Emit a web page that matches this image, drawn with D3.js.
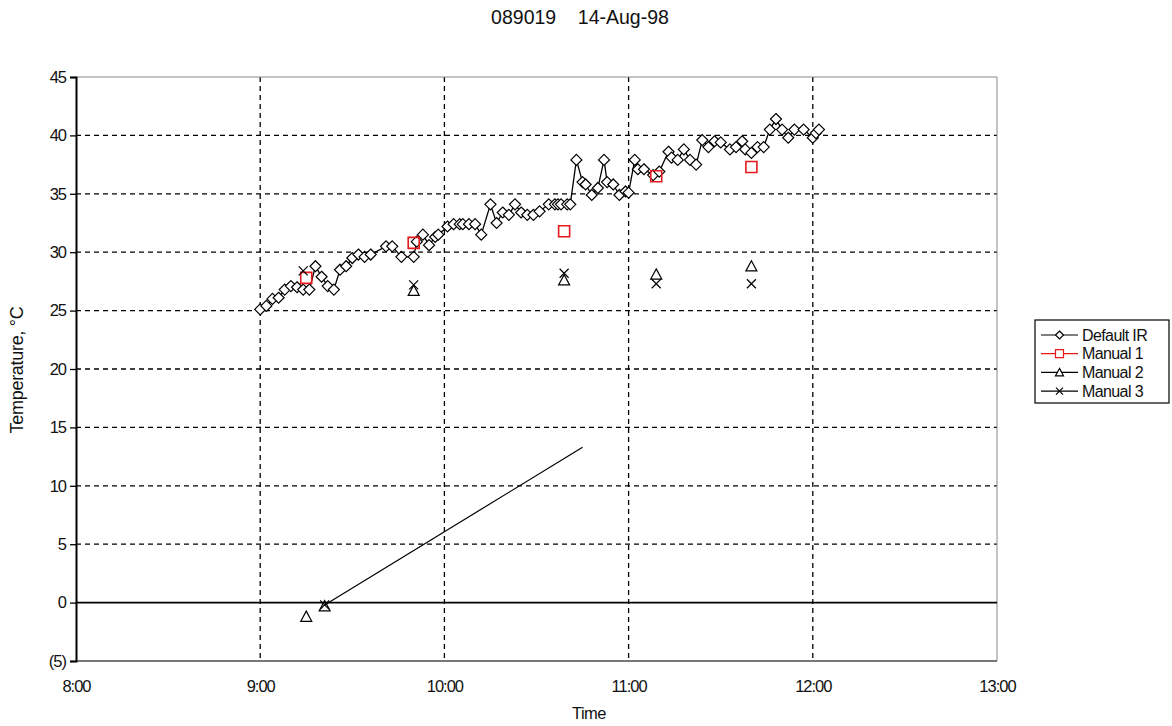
<!DOCTYPE html>
<html>
<head>
<meta charset="utf-8">
<script src="https://cdn.jsdelivr.net/npm/d3@7"></script>
<style>
  body { margin: 0; background: #fff; }
  svg { display: block; font-family: "Liberation Sans", Arial, sans-serif; }
</style>
</head>
<body>
<svg id="chart" width="1172" height="726"></svg>
<script>
// Surface temperature readings, 14 Aug 1998, site 089019
const titleText = "089019    14-Aug-98";
const xTickLabels = ["8:00", "9:00", "10:00", "11:00", "12:00", "13:00"];
const yTickValues = [-5, 0, 5, 10, 15, 20, 25, 30, 35, 40, 45];
const seriesNames = ["Default IR", "Manual 1", "Manual 2", "Manual 3"];

// Default IR logger trace
const irTimes = ["9:00","9:02","9:04","9:06","9:08","9:10","9:12","9:14","9:16","9:18",
  "9:20","9:22","9:24","9:26","9:28","9:30","9:32","9:34","9:36","9:41",
  "9:43","9:46","9:50","9:51","9:53","9:55","9:57","9:58","10:01","10:03",
  "10:05","10:06","10:08","10:10","10:12","10:15","10:17","10:19","10:21","10:23",
  "10:25","10:27","10:29","10:31","10:34","10:36","10:37","10:38","10:40","10:41",
  "10:43","10:45","10:46","10:48","10:50","10:52","10:53","10:55","10:57","10:59",
  "11:00","11:02","11:03","11:05","11:08","11:10","11:13","11:14","11:16","11:18",
  "11:20","11:22","11:24","11:26","11:28","11:30","11:33","11:35","11:37","11:38",
  "11:40","11:42","11:44","11:46","11:48","11:50","11:52","11:54","11:57","12:00",
  "12:01","12:02"];
const irValues = [25.1,25.4,26.0,26.1,26.8,27.1,27.0,26.8,26.8,28.8,
  27.9,27.1,26.8,28.5,28.8,29.5,29.8,29.6,29.8,30.5,
  30.5,29.6,29.6,30.9,31.5,30.6,31.3,31.5,32.2,32.4,
  32.4,32.4,32.4,32.4,31.5,34.1,32.5,33.4,33.2,34.1,
  33.4,33.2,33.2,33.5,34.1,34.1,34.1,34.1,34.1,34.1,
  37.9,36.0,35.8,34.9,35.5,37.9,36.0,35.8,34.9,35.2,
  35.1,37.9,37.1,37.1,36.6,36.9,38.6,38.1,37.9,38.8,
  37.9,37.5,39.6,39.0,39.5,39.4,38.8,39.0,39.5,38.8,
  38.5,39.0,39.0,40.5,41.4,40.5,39.8,40.5,40.5,39.8,
  40.2,40.5];

// Hand-held readings
const manual1Times = ["9:15", "9:50", "10:39", "11:09", "11:40"];
const manual1Values = [27.8, 30.8, 31.8, 36.5, 37.3];
const manual2Times = ["9:15", "9:50", "10:39", "11:09", "11:40", "9:21"];
const manual2Values = [-1.2, 26.7, 27.6, 28.1, 28.8, -0.3];
const manual3Times = ["9:14", "9:50", "10:39", "11:09", "11:40", "9:21"];
const manual3Values = [28.4, 27.2, 28.2, 27.3, 27.3, -0.2];
// Manual 3 stray connector segment
const connectorTimes = ["9:21", "10:45"];
const connectorValues = [-0.2, 13.3];

const toMin = s => { const [h, m] = s.split(":").map(Number); return h * 60 + m; };

const svg = d3.select("#chart");
const plotLeft = 76, plotRight = 997, plotTop = 77, plotBottom = 661;

const x = d3.scaleLinear().domain([8 * 60, 13 * 60]).range([plotLeft, plotRight]);
const y = d3.scaleLinear().domain([-5, 45]).range([plotBottom, plotTop]);

// Title
svg.append("text").attr("x", 580).attr("y", 24).attr("text-anchor", "middle")
  .attr("font-size", 19.5).attr("fill", "#111").style("white-space", "pre").text(titleText);

// Horizontal gridlines
const g = svg.append("g");
g.selectAll("line.hg").data(yTickValues.filter(v => v !== -5 && v !== 0 && v !== 45))
  .join("line").attr("class", "hg").attr("x1", plotLeft).attr("x2", plotRight)
  .attr("y1", d => y(d)).attr("y2", d => y(d))
  .attr("stroke", "#000").attr("stroke-width", 1.3).attr("stroke-dasharray", "5,4");

// Vertical gridlines
const hourMins = xTickLabels.map(toMin);
g.selectAll("line.vg").data(hourMins.slice(1, -1))
  .join("line").attr("class", "vg").attr("x1", d => x(d)).attr("x2", d => x(d))
  .attr("y1", plotTop).attr("y2", plotBottom)
  .attr("stroke", "#000").attr("stroke-width", 1.3).attr("stroke-dasharray", "5,4");

// Plot frame
svg.append("line").attr("x1", plotLeft).attr("x2", plotRight).attr("y1", plotTop).attr("y2", plotTop)
  .attr("stroke", "#888").attr("stroke-width", 1);
svg.append("line").attr("x1", plotRight).attr("x2", plotRight).attr("y1", plotTop).attr("y2", plotBottom)
  .attr("stroke", "#888").attr("stroke-width", 1);
svg.append("line").attr("x1", plotLeft).attr("x2", plotRight).attr("y1", plotBottom).attr("y2", plotBottom)
  .attr("stroke", "#777").attr("stroke-width", 2);
// Zero line
svg.append("line").attr("x1", plotLeft).attr("x2", plotRight).attr("y1", y(0)).attr("y2", y(0))
  .attr("stroke", "#000").attr("stroke-width", 1.6);

// Y axis
const yAxis = d3.axisLeft(y).tickValues(yTickValues).tickSize(6).tickPadding(4)
  .tickFormat(d => d < 0 ? `(${Math.abs(d)})` : d);
const ya = svg.append("g").attr("transform", `translate(${plotLeft},0)`).call(yAxis);
ya.select(".domain").attr("stroke", "#000").attr("stroke-width", 2);
ya.selectAll(".tick line").attr("stroke", "#000").attr("stroke-width", 1.3);
ya.selectAll(".tick text").attr("font-size", 16.5).attr("fill", "#111")
  .attr("font-family", "Liberation Sans, Arial, sans-serif").attr("letter-spacing", "-1");

// X axis labels
const xAxis = d3.axisBottom(x).tickValues(hourMins).tickSize(0).tickPadding(19)
  .tickFormat((d, i) => xTickLabels[i]);
const xa = svg.append("g").attr("transform", `translate(0,${plotBottom})`).call(xAxis);
xa.select(".domain").remove();
xa.selectAll(".tick text").attr("font-size", 16.5).attr("fill", "#111")
  .attr("font-family", "Liberation Sans, Arial, sans-serif").attr("letter-spacing", "-1");

// Axis titles
svg.append("text").attr("x", 589).attr("y", 719).attr("text-anchor", "middle")
  .attr("font-size", 16.5).attr("fill", "#111").attr("letter-spacing", "-0.5").text("Time");
svg.append("text").attr("transform", "translate(23,370) rotate(-90)")
  .attr("text-anchor", "middle").attr("font-size", 18).attr("fill", "#111")
  .attr("letter-spacing", "-0.3").text("Temperature, \u00B0C");

// Marker shapes
const diamond = (s) => `M0,${-s}L${s},0L0,${s}L${-s},0Z`;
const square = (s) => `M${-s},${-s}H${s}V${s}H${-s}Z`;
const triangle = (s) => `M0,${-s}L${s},${s * 0.85}H${-s}Z`;
const cross = (s) => `M${-s},${-s}L${s},${s}M${s},${-s}L${-s},${s}`;

const irData = irTimes.map((t, i) => ({ t: toMin(t), v: irValues[i] }));
const line = d3.line().x(d => x(d.t)).y(d => y(d.v));

// Manual 3 connector
const connData = connectorTimes.map((t, i) => ({ t: toMin(t), v: connectorValues[i] }));
svg.append("path").datum(connData).attr("d", line).attr("fill", "none")
  .attr("stroke", "#000").attr("stroke-width", 1.2);

// Default IR line and markers
svg.append("path").datum(irData).attr("d", line).attr("fill", "none")
  .attr("stroke", "#000").attr("stroke-width", 1.3);
svg.append("g").selectAll("path").data(irData).join("path")
  .attr("transform", d => `translate(${x(d.t)},${y(d.v)})`)
  .attr("d", diamond(5.5)).attr("fill", "#fff").attr("stroke", "#000").attr("stroke-width", 1.2);

// Manual 1
const m1 = manual1Times.map((t, i) => ({ t: toMin(t), v: manual1Values[i] }));
svg.append("g").selectAll("path").data(m1).join("path")
  .attr("transform", d => `translate(${x(d.t)},${y(d.v)})`)
  .attr("d", square(5.5)).attr("fill", "none").attr("stroke", "#e8191c").attr("stroke-width", 1.6);

// Manual 2
const m2 = manual2Times.map((t, i) => ({ t: toMin(t), v: manual2Values[i] }));
svg.append("g").selectAll("path").data(m2).join("path")
  .attr("transform", d => `translate(${x(d.t)},${y(d.v)})`)
  .attr("d", triangle(5.5)).attr("fill", "none").attr("stroke", "#000").attr("stroke-width", 1.2);

// Manual 3
const m3 = manual3Times.map((t, i) => ({ t: toMin(t), v: manual3Values[i] }));
svg.append("g").selectAll("path").data(m3).join("path")
  .attr("transform", d => `translate(${x(d.t)},${y(d.v)})`)
  .attr("d", cross(4.5)).attr("fill", "none").attr("stroke", "#000").attr("stroke-width", 1.2);

// Legend
const lg = svg.append("g").attr("transform", "translate(1035,320)");
lg.append("rect").attr("x", 0).attr("y", 0).attr("width", 134).attr("height", 83)
  .attr("fill", "#fff").attr("stroke", "#000").attr("stroke-width", 1.2);
const legendShapes = [diamond(4), square(4), triangle(4), cross(3.5)];
const legendColors = ["#000", "#e8191c", "#000", "#000"];
seriesNames.forEach((name, i) => {
  const yy = 15 + i * 18.7;
  lg.append("line").attr("x1", 6).attr("x2", 43).attr("y1", yy).attr("y2", yy)
    .attr("stroke", legendColors[i]).attr("stroke-width", 1.2);
  lg.append("path").attr("transform", `translate(24.5,${yy})`).attr("d", legendShapes[i])
    .attr("fill", i === 3 ? "none" : "#fff").attr("stroke", legendColors[i]).attr("stroke-width", 1.2);
  lg.append("text").attr("x", 47).attr("y", yy + 5.5).attr("font-size", 16).attr("fill", "#111")
    .attr("letter-spacing", "-0.6").text(name);
});
</script>
</body>
</html>
